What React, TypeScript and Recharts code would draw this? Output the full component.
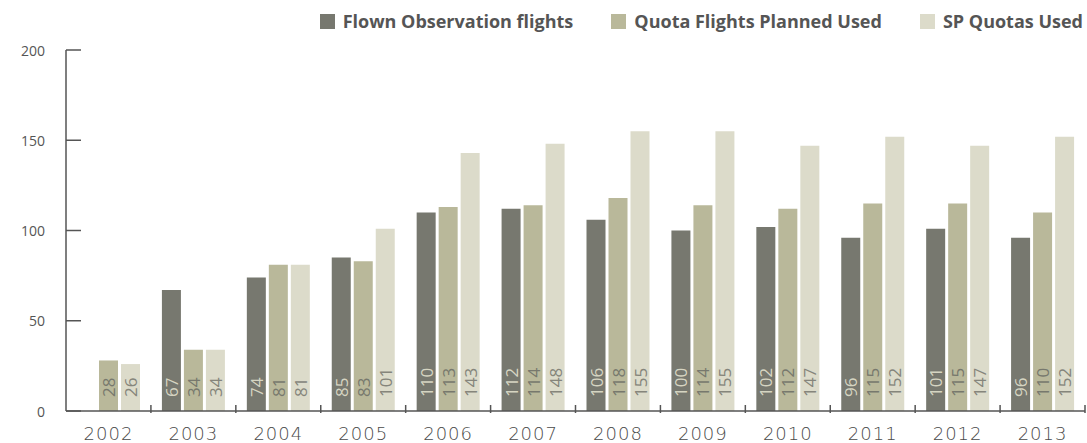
import React from 'react';
import { BarChart, Bar, XAxis, YAxis, LabelList } from 'recharts';

const years = ['2002', '2003', '2004', '2005', '2006', '2007', '2008', '2009', '2010', '2011', '2012', '2013'];
const flown = [null, 67, 74, 85, 110, 112, 106, 100, 102, 96, 101, 96];
const quotaPlanned = [28, 34, 81, 83, 113, 114, 118, 114, 112, 115, 115, 110];
const spQuotas = [26, 34, 81, 101, 143, 148, 155, 155, 147, 152, 147, 152];
const yTicks = [0, 50, 100, 150, 200];

const series = [
  { key: 'flown', name: 'Flown Observation flights', color: '#77786f', label: '#d6d5c2' },
  { key: 'quota', name: 'Quota Flights Planned Used', color: '#b9b89a', label: '#77786d' },
  { key: 'sp', name: 'SP Quotas Used', color: '#dcdbca', label: '#85857b' },
];

const data = years.map((year, i) => ({
  year,
  flown: flown[i],
  quota: quotaPlanned[i],
  sp: spQuotas[i],
}));

const axisColor = '#555555';

function YTick(props: any) {
  const { x, y, payload } = props;
  return (
    <g>
      <line x1={x + 21} x2={x + 36} y1={y} y2={y} stroke={axisColor} strokeWidth={1.5} />
      <text
        x={x}
        y={y}
        textAnchor="end"
        dominantBaseline="central"
        fontFamily="'Open Sans', sans-serif"
        fontSize={14}
        fill="#555"
      >
        {payload.value}
      </text>
    </g>
  );
}

function XTick(props: any) {
  const { x, y, payload } = props;
  const half = payload.offset || 42.5;
  return (
    <g>
      <line x1={x + half} x2={x + half} y1={y - 8} y2={y} stroke={axisColor} strokeWidth={1.5} />
      <text
        x={x}
        y={y + 27}
        textAnchor="middle"
        fontFamily="'DejaVu Sans', sans-serif"
        fontWeight={200}
        fontSize={18}
        letterSpacing={1}
        fill="#4a4a4a"
      >
        {payload.value}
      </text>
    </g>
  );
}

function makeValueLabel(color: string) {
  return (props: any) => {
    const { x, y, width, height, value } = props;
    if (value == null) return null;
    const cx = x + width / 2;
    const cy = y + height - 14;
    return (
      <text
        x={cx}
        y={cy}
        transform={`rotate(-90 ${cx} ${cy})`}
        textAnchor="start"
        dominantBaseline="central"
        fontFamily="'Open Sans', sans-serif"
        fontSize={17}
        fill={color}
      >
        {value}
      </text>
    );
  };
}

export default function App() {
  return (
    <div style={{ position: 'absolute', left: 0, top: 0, width: 1087, height: 443, background: '#fff' }}>
      <div
        style={{
          position: 'absolute',
          top: 9,
          right: 4,
          display: 'flex',
          gap: 38,
          fontFamily: "'Open Sans', sans-serif",
          fontWeight: 700,
          fontSize: 18,
          color: '#555',
          whiteSpace: 'nowrap',
        }}
      >
        {series.map((s) => (
          <div key={s.key} style={{ display: 'flex', alignItems: 'center' }}>
            <span style={{ width: 15, height: 15, background: s.color, marginRight: 8, display: 'inline-block' }} />
            {s.name}
          </div>
        ))}
      </div>
      <BarChart
        width={1087}
        height={443}
        data={data}
        margin={{ top: 50, right: 2, left: 0, bottom: 0 }}
        barSize={19}
        barGap={3}
      >
        <XAxis
          dataKey="year"
          height={32}
          axisLine={{ stroke: axisColor, strokeWidth: 1.5 }}
          tickLine={false}
          tickSize={0}
          tick={<XTick />}
          interval={0}
        />
        <YAxis
          width={66}
          domain={[0, 200]}
          ticks={yTicks}
          axisLine={{ stroke: axisColor, strokeWidth: 1.5 }}
          tickLine={false}
          tickSize={0}
          tickMargin={21}
          tick={<YTick />}
        />
        {series.map((s) => (
          <Bar key={s.key} dataKey={s.key} name={s.name} fill={s.color} isAnimationActive={false}>
            <LabelList dataKey={s.key} content={makeValueLabel(s.label)} />
          </Bar>
        ))}
      </BarChart>
    </div>
  );
}
